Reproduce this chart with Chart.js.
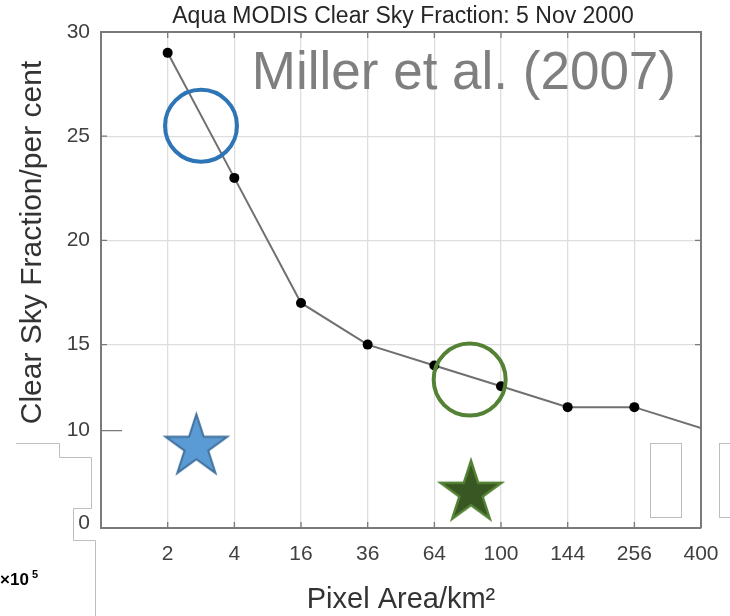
<!DOCTYPE html>
<html>
<head>
<meta charset="utf-8">
<title>Aqua MODIS Clear Sky Fraction</title>
<script src="https://cdn.jsdelivr.net/npm/chart.js@4.4.0/dist/chart.umd.min.js"></script>
<style>
  html, body { margin: 0; padding: 0; background: #fff; }
  #wrap { width: 730px; height: 616px; position: relative; }
</style>
</head>
<body>
<div id="wrap"><canvas id="skyChart"></canvas></div>
<script>
// pixel area (km^2) categories and clear sky fraction (per cent)
var pixelAreas = ['2', '4', '16', '36', '64', '100', '144', '256', '400'];
var clearSky = [29, 23, 17, 15, 14, 13, 12, 12, 11];

// y tick labels, the last two sit on the pasted (broken) lower part of the axis
var yTickLabels = ['30', '25', '20', '15', '10', '0'];
var yTickValues = [30, 25, 20, 15, 10.87, 6.44];

// highlight marks: [x slot, y value]
var blueCircle = [1.5, 25.5];
var greenCircle = [5.53, 13.32];
var blueStar = [1.43, 10.1];
var greenStar = [5.55, 7.89];

var FONT = '"Liberation Sans", Arial, Helvetica, sans-serif';
Chart.defaults.font.family = FONT;

function starCanvas(r, fill, stroke, lw) {
	var size = Math.ceil(2 * r + 4 * lw + 6);
	var c = document.createElement('canvas');
	c.width = size;
	c.height = size;
	var g = c.getContext('2d');
	var cx = size / 2, cy = size / 2, inner = r * 0.382;
	g.beginPath();
	for (var k = 0; k < 10; k++) {
		var rr = k % 2 ? inner : r;
		var ang = -Math.PI / 2 + k * Math.PI / 5;
		g.lineTo(cx + rr * Math.cos(ang), cy + rr * Math.sin(ang));
	}
	g.closePath();
	g.fillStyle = fill;
	g.fill();
	g.lineJoin = 'miter';
	g.strokeStyle = stroke;
	g.lineWidth = lw;
	g.stroke();
	return c;
}

function pt(p) { return [{x: p[0], y: p[1]}]; }

// scales should not push the plot area around, layout.padding decides
function noPad(s) {
	s.paddingTop = 0;
	s.paddingBottom = 0;
	s.paddingLeft = 0;
	s.paddingRight = 0;
}

// frame: top/right border and little inward ticks like the original figure
var framePlugin = {
	id: 'frame',
	beforeDatasetsDraw: function (chart) {
		var c = chart.ctx, a = chart.chartArea, sx = chart.scales.x, sy = chart.scales.y;
		c.save();
		c.strokeStyle = '#7a7a7a';
		c.lineWidth = 2;
		c.beginPath();
		c.moveTo(a.left, a.top);
		c.lineTo(a.right, a.top);
		c.lineTo(a.right, a.bottom);
		c.stroke();
		c.lineWidth = 1.3;
		c.beginPath();
		sx.ticks.forEach(function (t) {
			var px = sx.getPixelForValue(t.value);
			c.moveTo(px, a.top); c.lineTo(px, a.top + 6);
			c.moveTo(px, a.bottom); c.lineTo(px, a.bottom - 6);
		});
		sy.ticks.forEach(function (t, i) {
			if (i > 4) return;
			var py = sy.getPixelForValue(t.value);
			c.moveTo(a.left, py); c.lineTo(a.left + (i == 4 ? 21 : 6), py);
			if (i < 4) { c.moveTo(a.right, py); c.lineTo(a.right - 6, py); }
		});
		c.stroke();
		c.restore();
	}
};

// texts and the left-over outlines of the collage
var decorPlugin = {
	id: 'decor',
	afterDraw: function (chart) {
		var c = chart.ctx, a = chart.chartArea;
		c.save();
		c.fillStyle = '#262626';
		c.font = '23px ' + FONT;
		c.textAlign = 'center';
		c.textBaseline = 'alphabetic';
		c.fillText('Aqua MODIS Clear Sky Fraction: 5 Nov 2000', (a.left + a.right) / 2 + 2, a.top - 9);

		c.fillStyle = '#7f7f7f';
		c.font = '53px ' + FONT;
		c.textAlign = 'right';
		c.fillText('Miller et al. (2007)', a.right - 25, a.top + 57);

		c.fillStyle = '#000';
		c.textAlign = 'left';
		c.font = 'bold 17px ' + FONT;
		c.fillText('\u00d710', 0, 585);
		c.font = 'bold 11px ' + FONT;
		c.fillText('5', 32, 578);

		c.strokeStyle = '#bdbdbd';
		c.lineWidth = 1;
		c.beginPath();
		c.moveTo(16, 443.5); c.lineTo(59.5, 443.5); c.lineTo(59.5, 457.5);
		c.lineTo(91.5, 457.5); c.lineTo(91.5, 508.5); c.lineTo(73.5, 508.5);
		c.lineTo(73.5, 540.5); c.lineTo(95.5, 540.5); c.lineTo(95.5, 616);
		c.stroke();
		c.strokeRect(650.5, 443.5, 31, 74);
		c.strokeRect(719.5, 443.5, 20, 74);
		c.restore();
	}
};

var skyCtx = document.getElementById('skyChart').getContext('2d');
var skyChart = new Chart(skyCtx, {
	type: 'line',
	data: {
		datasets: [
			{
				label: 'Clear sky fraction',
				data: clearSky.map(function (v, i) { return {x: i + 1, y: v}; }),
				borderColor: '#707070',
				borderWidth: 2,
				tension: 0,
				pointBackgroundColor: '#000',
				pointBorderWidth: 0,
				pointRadius: function (c) { return c.dataIndex === clearSky.length - 1 ? 0 : 5; },
				order: 2
			},
			{
				data: pt(blueCircle), showLine: false, order: 1,
				pointStyle: 'circle', pointRadius: 36, pointBorderWidth: 4,
				pointBorderColor: '#2e75b6', pointBackgroundColor: 'rgba(0,0,0,0)'
			},
			{
				data: pt(greenCircle), showLine: false, order: 1,
				pointStyle: 'circle', pointRadius: 36, pointBorderWidth: 4,
				pointBorderColor: '#548235', pointBackgroundColor: 'rgba(0,0,0,0)'
			},
			{
				data: pt(blueStar), showLine: false, order: 1, pointRadius: 30,
				pointStyle: starCanvas(32.5, '#5b9bd5', '#41719c', 2)
			},
			{
				data: pt(greenStar), showLine: false, order: 1, pointRadius: 30,
				pointStyle: starCanvas(32, '#385723', '#548235', 2.5)
			}
		]
	},
	options: {
		responsive: true,
		maintainAspectRatio: false,
		animation: false,
		layout: { autoPadding: false, padding: { left: 15, right: 29, top: 32, bottom: 0 } },
		plugins: {
			legend: { display: false },
			tooltip: { enabled: false },
			title: { display: false }
		},
		scales: {
			x: {
				type: 'linear',
				min: 0,
				max: 9,
				afterBuildTicks: function (s) {
					s.ticks = [0, 1, 2, 3, 4, 5, 6, 7, 8, 9].map(function (v) { return {value: v}; });
				},
				afterFit: function (s) { s.height = 88; noPad(s); },
				ticks: {
					autoSkip: false,
					maxRotation: 0,
					padding: 14,
					color: '#404040',
					font: { size: 21 },
					callback: function (v) { return pixelAreas[v - 1] || ''; }
				},
				grid: {
					color: function (c) { return (c.index === 0 || c.index === 9) ? 'rgba(0,0,0,0)' : '#dedede'; },
					lineWidth: 1.3,
					drawTicks: false
				},
				border: { display: true, color: '#7a7a7a', width: 2 },
				title: {
					display: true,
					text: 'Pixel Area/km\u00b2',
					color: '#333',
					font: { size: 29, lineHeight: 1.1 },
					padding: { top: 0, bottom: 0 }
				}
			},
			y: {
				type: 'linear',
				min: 6.2,
				max: 30,
				afterBuildTicks: function (s) {
					s.ticks = yTickValues.map(function (v) { return {value: v}; });
				},
				afterFit: function (s) { s.width = 86; noPad(s); },
				ticks: {
					padding: 11,
					color: '#404040',
					font: { size: 21 },
					callback: function (v, i) { return yTickLabels[i]; }
				},
				grid: {
					color: function (c) { return (c.index >= 1 && c.index <= 3) ? '#dedede' : 'rgba(0,0,0,0)'; },
					lineWidth: 1.3,
					drawTicks: false
				},
				border: { display: true, color: '#7a7a7a', width: 2 },
				title: {
					display: true,
					text: '         Clear Sky Fraction/per cent',
					color: '#333',
					font: { size: 30, lineHeight: 1.2 },
					padding: { top: 0, bottom: 0 }
				}
			}
		}
	},
	plugins: [framePlugin, decorPlugin]
});
</script>
</body>
</html>
